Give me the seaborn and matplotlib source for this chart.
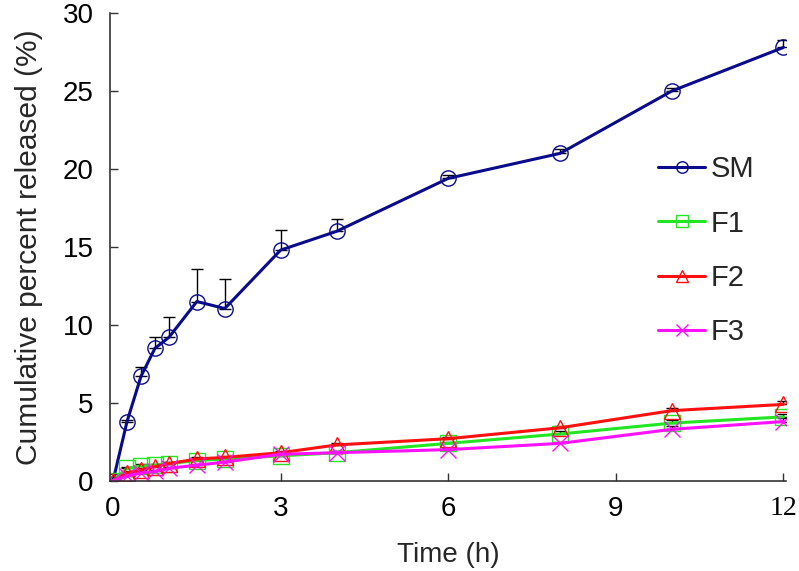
import numpy as np
import pandas as pd
import matplotlib
matplotlib.use('Agg')
import matplotlib.pyplot as plt
import seaborn as sns

# tempos de coleta (h)
tempo = [0, 0.25, 0.5, 0.75, 1, 1.5, 2, 3, 4, 6, 8, 10, 12]

sm = [0, 3.8, 6.7, 8.5, 9.2, 11.5, 11.05, 14.8, 16.0, 19.4, 21.0, 25.0, 27.8]
sm_err = [0, 0.1, 0.6, 0.7, 1.3, 2.1, 1.9, 1.3, 0.8, 0.2, 0.3, 0.2, 0.5]

f1 = [0, 0.8, 0.95, 1.0, 1.1, 1.3, 1.4, 1.6, 1.8, 2.4, 3.0, 3.7, 4.1]
f1_err = [0, 0.1, 0.1, 0.1, 0.1, 0.1, 0.1, 0.1, 0.1, 0.1, 0.2, 0.2, 0.2]

f2 = [0, 0.5, 0.7, 0.9, 1.1, 1.4, 1.5, 1.8, 2.3, 2.7, 3.4, 4.5, 4.9]
f2_err = [0, 0.1, 0.1, 0.1, 0.1, 0.1, 0.1, 0.1, 0.1, 0.1, 0.1, 0.2, 0.2]

f3 = [0, 0.3, 0.5, 0.6, 0.8, 1.0, 1.2, 1.7, 1.8, 2.0, 2.4, 3.3, 3.8]
f3_err = [0, 0.1, 0.1, 0.1, 0.1, 0.1, 0.1, 0.1, 0.1, 0.1, 0.1, 0.2, 0.2]

x_ticks = [0, 3, 6, 9, 12]
y_ticks = [0, 5, 10, 15, 20, 25, 30]

series = [
    ('SM', sm, sm_err, '#0a0a8c', 'o'),
    ('F1', f1, f1_err, '#22e622', 's'),
    ('F2', f2, f2_err, '#ff1010', '^'),
    ('F3', f3, f3_err, '#ff10ff', 'x'),
]

sns.set_theme(style='ticks')
plt.rcParams['font.family'] = ['Liberation Sans', 'DejaVu Sans']

fig = plt.figure(figsize=(7.99, 5.71), dpi=100)
ax = fig.add_axes([0.138, 0.158, 0.846, 0.819])

for nome, y, err, cor, mk in series:
    ax.errorbar(tempo, y, yerr=[np.zeros(len(err)), err], fmt='none',
                ecolor='black', elinewidth=1, capsize=4, capthick=1, zorder=1)
    sns.lineplot(x=tempo, y=y, ax=ax, color=cor, marker=mk, markersize=11,
                 markerfacecolor='none', markeredgecolor=cor,
                 markeredgewidth=1, linewidth=2.2, label=nome, zorder=2)

ax.set_xlim(-0.05, 12.05)
ax.set_ylim(0, 30)
ax.set_xticks(x_ticks, labels=[str(t) for t in x_ticks])
ax.set_yticks(y_ticks)
# o "12" da figura original aparece em fonte serifada
ax.get_xticklabels()[-1].set_family('Liberation Serif')
ax.tick_params(direction='in', length=6, width=1, labelsize=20,
               colors='#333333', labelcolor='black')
ax.tick_params(axis='y', pad=12)
ax.tick_params(axis='x', pad=11)
for lado in ['top', 'right']:
    ax.spines[lado].set_visible(False)
for lado in ['left', 'bottom']:
    ax.spines[lado].set_color('#333333')
    ax.spines[lado].set_linewidth(1.2)

ax.set_xlabel('Time (h)', fontsize=20, labelpad=14)
ax.set_ylabel('Cumulative percent released (%)', fontsize=21.5, labelpad=14)

fig.legend(*ax.get_legend_handles_labels(), loc='upper left',
           bbox_to_anchor=(0.824, 0.728), frameon=False, fontsize=21,
           labelspacing=0.9, handlelength=1.6, handletextpad=0.2,
           borderpad=0, borderaxespad=0, markerscale=0.75)
ax.get_legend().remove()

fig.savefig('out.png', dpi=100)
